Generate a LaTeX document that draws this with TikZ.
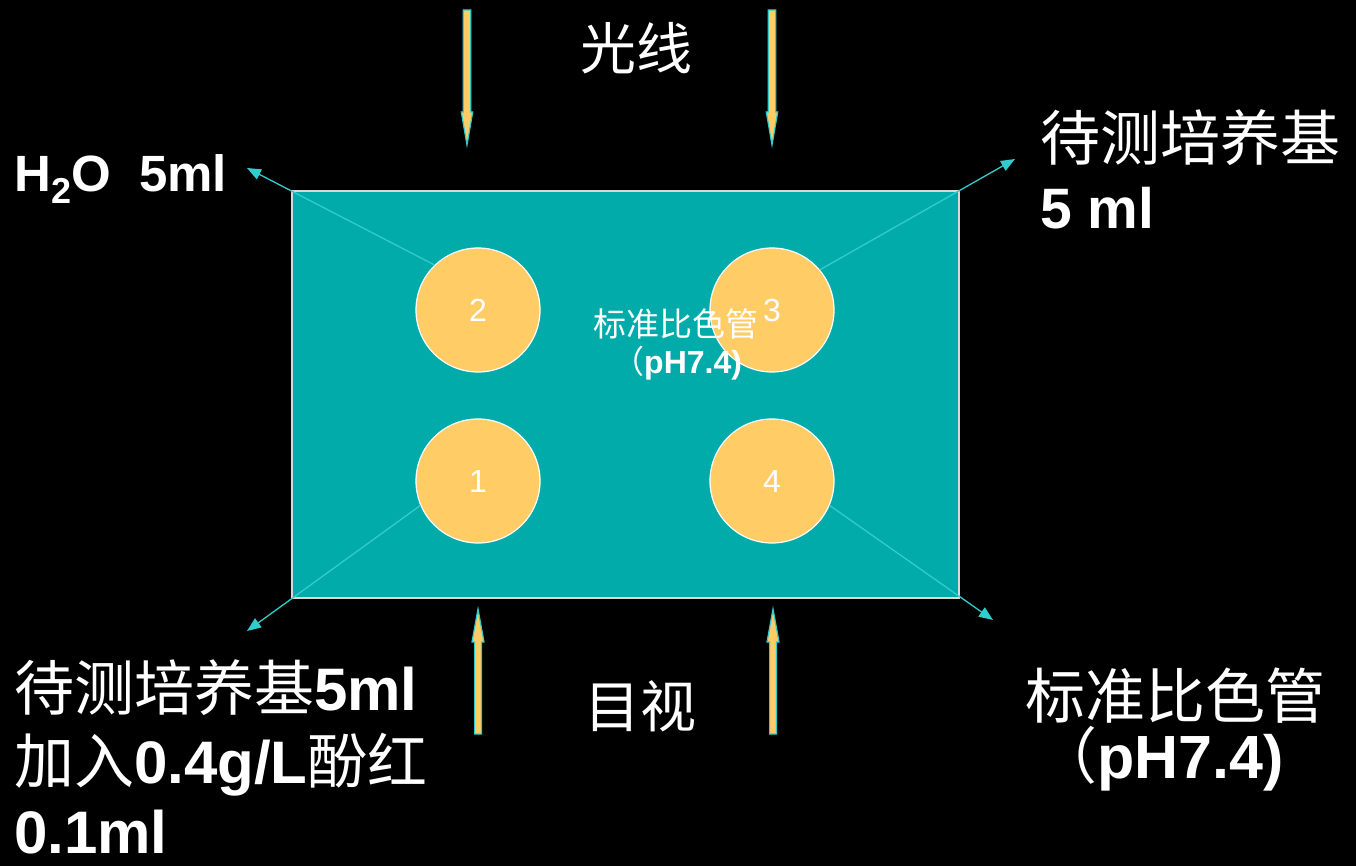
\documentclass[tikz,border=0pt]{standalone}
\usepackage{fontspec}
\setmainfont{Liberation Sans}
\newfontfamily\cjk{Noto Sans CJK SC}
\usetikzlibrary{arrows.meta}
\definecolor{plateteal}{HTML}{00ABA9}
\definecolor{wellyellow}{HTML}{FFCC66}
\definecolor{lineteal}{HTML}{33CCCC}
\definecolor{rimgray}{HTML}{D8D8D8}
\newcommand\zh[1]{{\cjk\mdseries #1}}
\begin{document}
\begin{tikzpicture}[x=1pt,y=-1pt,
  txt/.style={text=white, inner sep=0pt, anchor=base west},
  well/.style={circle, fill=wellyellow, draw=white, line width=1.2pt,
    minimum size=124pt, inner sep=0pt, text=white,
    font=\fontsize{32}{38}\selectfont},
  pointer/.style={draw=lineteal, line width=1.3pt,
    -{Triangle[length=14pt,width=11pt]}},
  beam/.style={fill=wellyellow, draw=lineteal, line width=1.2pt, line join=miter},
]
\fill[black] (0,0) rectangle (1356,866);
\useasboundingbox (0,0) rectangle (1356,866);

% plate
\node[draw=rimgray, fill=plateteal, line width=1.5pt, minimum width=667pt,
  minimum height=407pt, inner sep=0pt] (plate) at (625.5,394.5) {};

% wells
\node[well] (c2) at (478,310) {2};
\node[well] (c3) at (772,310) {3};
\node[well] (c1) at (478,481) {1};
\node[well] (c4) at (772,481) {4};

% free ends of pointers
\coordinate (tl) at (247,168);
\coordinate (tr) at (1015,159);
\coordinate (bl) at (247,631);
\coordinate (br) at (993,620);

\draw[pointer] (c2.134) -- (tl);
\draw[pointer] (c3.40) -- (tr);
\draw[pointer] (c1.203) -- (bl);
\draw[pointer] (c4.337) -- (br);

% light beams (top, pointing down)
\draw[beam] (463.3,10) -- (470.7,10) -- (470.7,112) -- (472.7,112) -- (467,145)
  -- (461.3,112) -- (463.3,112) -- cycle;
\draw[beam] (768.3,10) -- (775.7,10) -- (775.7,112) -- (777.7,112) -- (772,145)
  -- (766.3,112) -- (768.3,112) -- cycle;
% viewing arrows (bottom, pointing up)
\draw[beam] (474.6,734) -- (481.4,734) -- (481.4,642) -- (484,642) -- (478,609)
  -- (472,642) -- (474.6,642) -- cycle;
\draw[beam] (769.6,734) -- (776.4,734) -- (776.4,642) -- (779,642) -- (773,609)
  -- (767,642) -- (769.6,642) -- cycle;

% center label
\node[txt, font=\fontsize{33}{40}\selectfont] (std1) at (593,336) {\zh{标准比色管}};
\node[txt, font=\fontsize{32}{40}\selectfont] (std2) at (612,373) {\zh{（}\textbf{pH7.4)}};

% titles
\node[txt, anchor=base, font=\fontsize{56}{66}\selectfont] (light) at (636,70) {\zh{光线}};
\node[txt, anchor=base, font=\fontsize{56}{66}\selectfont] (eye) at (640,727) {\zh{目视}};

% top-left
\node[txt, font=\bfseries\fontsize{51}{60}\selectfont] (water) at (14,192)
  {H\raisebox{-12pt}{\fontsize{36}{40}\selectfont 2}O\ \ 5ml};

% top-right
\node[txt, font=\fontsize{60}{70}\selectfont] (med1) at (1040,161) {\zh{待测培养基}};
\node[txt, font=\bfseries\fontsize{57}{66}\selectfont] (med2) at (1040,229) {5 ml};

% bottom-left
\node[txt, font=\fontsize{60}{70}\selectfont] (bl1) at (14,710) {\zh{待测培养基}\textbf{5ml}};
\node[txt, font=\fontsize{60}{70}\selectfont] (bl2) at (14,783) {\zh{加入}\textbf{0.4g/L}\zh{酚红}};
\node[txt, font=\fontsize{60}{70}\selectfont] (bl3) at (14,853) {\textbf{0.1ml}};

% bottom-right
\node[txt, font=\fontsize{60}{70}\selectfont] (br1) at (1025,718) {\zh{标准比色管}};
\node[txt, font=\fontsize{61}{70}\selectfont] (br2) at (1036,778) {\zh{（}\textbf{pH7.4)}};
\end{tikzpicture}
\end{document}
